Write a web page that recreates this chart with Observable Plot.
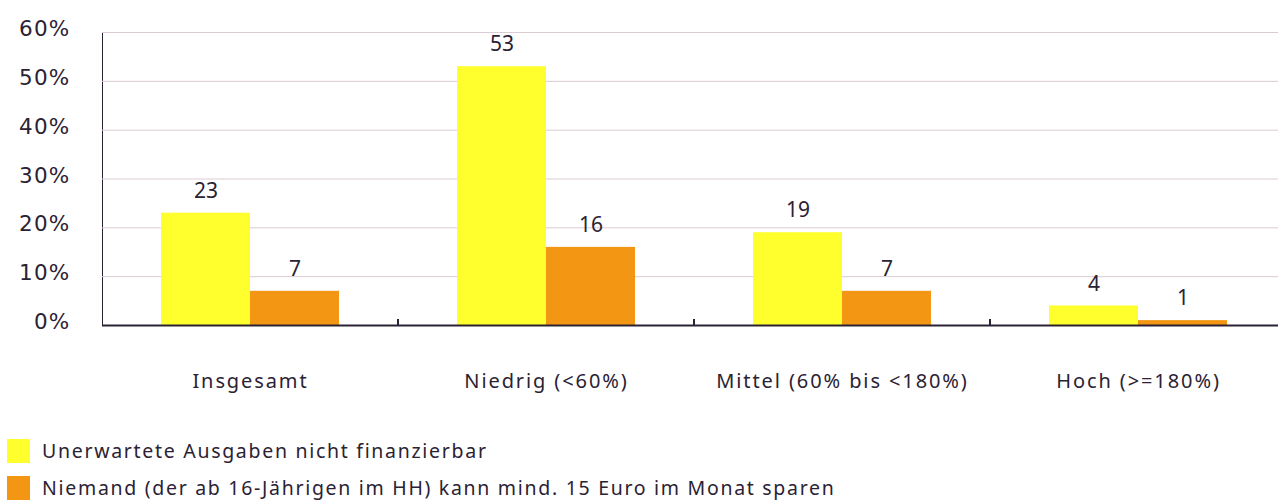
<!DOCTYPE html>
<html>
<head>
<meta charset="utf-8">
<script src="https://cdn.jsdelivr.net/npm/d3@7"></script>
<script src="https://cdn.jsdelivr.net/npm/@observablehq/plot@0.6"></script>
<style>
  html, body { margin: 0; padding: 0; background: #fff; overflow: hidden; }
  #chart { width: 1278px; }
  .legend { font-family: "Noto Sans", sans-serif; font-size: 19.5px; letter-spacing: 1.7px; color: #2b2233; margin-top: 32px; }
  .legend .row { display: flex; align-items: center; height: 37px; }
  .legend .sw { width: 23px; height: 24px; margin-left: 7px; margin-right: 12px; }
</style>
</head>
<body>
<div id="chart"></div>
<script>
const categories = ["Insgesamt", "Niedrig (<60%)", "Mittel (60% bis <180%)", "Hoch (>=180%)"];
const seriesNames = [
  "Unerwartete Ausgaben nicht finanzierbar",
  "Niemand (der ab 16-Jährigen im HH) kann mind. 15 Euro im Monat sparen"
];
const seriesColors = ["#ffff2e", "#f29614"];
const unerwartet = [23, 53, 19, 4];
const niemand = [7, 16, 7, 1];
const yTicks = [0, 10, 20, 30, 40, 50, 60];

const data = [];
categories.forEach((c, i) => {
  data.push({cat: c, series: seriesNames[0], value: unerwartet[i]});
  data.push({cat: c, series: seriesNames[1], value: niemand[i]});
});

const chart = Plot.plot({
  width: 1278,
  height: 400,
  marginLeft: 101,
  marginRight: -8,
  marginTop: 32,
  marginBottom: 75,
  style: {fontFamily: "'Noto Sans', sans-serif", fontSize: "20px", color: "#2b2233", background: "#fff"},
  fx: {domain: categories, padding: 0, label: null, axis: "bottom", tickSize: 0, tickPadding: 48},
  x: {domain: seriesNames, paddingInner: 0, paddingOuter: 0.66, axis: null},
  y: {domain: [0, 60], ticks: yTicks, tickFormat: d => d + "%", tickSize: 0, tickPadding: 32, label: null, line: true},
  color: {domain: seriesNames, range: seriesColors},
  marks: [
    Plot.ruleY(yTicks.slice(1), {stroke: "#dccbd4", strokeWidth: 1}),
    Plot.barY(data, {fx: "cat", x: "series", y: "value", fill: "series"}),
    Plot.text(data, {fx: "cat", x: "series", y: "value", text: d => String(d.value), dy: -22, fill: "#2b2233", fontSize: 21}),
    Plot.ruleY([0], {stroke: "#2b2233", strokeWidth: 2})
  ]
});

document.getElementById("chart").appendChild(chart);

const svg = d3.select(chart.tagName.toLowerCase() === "svg" ? chart : chart.querySelector("svg"));
svg.style("overflow", "visible");
// y axis styling
svg.selectAll('[aria-label^="y-axis"] text')
  .attr("font-size", 21.5).attr("font-family", "'DejaVu Sans', sans-serif")
  .attr("letter-spacing", "1.2px").attr("dy", "-0.15em");
svg.selectAll('[aria-label^="y-axis"] path, [aria-label^="y-axis"] line').attr("stroke", "#2b2233").attr("stroke-width", 2);
// fx axis styling
svg.selectAll('[aria-label^="fx-axis"] text').attr("letter-spacing", "1.9px");

// boundary ticks between categories
const fx = chart.scale("fx");
const bounds = categories.slice(1).map(c => fx.apply(c));
const y0 = chart.scale("y").apply(0);
svg.append("g").selectAll("line").data(bounds).join("line")
  .attr("x1", d => d).attr("x2", d => d)
  .attr("y1", y0 - 6).attr("y2", y0)
  .attr("stroke", "#2b2233").attr("stroke-width", 2);

// legend
const legend = d3.select("body").append("div").attr("class", "legend");
seriesNames.forEach((s, i) => {
  const row = legend.append("div").attr("class", "row");
  row.append("div").attr("class", "sw").style("background", seriesColors[i]);
  row.append("span").text(s);
});
</script>
</body>
</html>
